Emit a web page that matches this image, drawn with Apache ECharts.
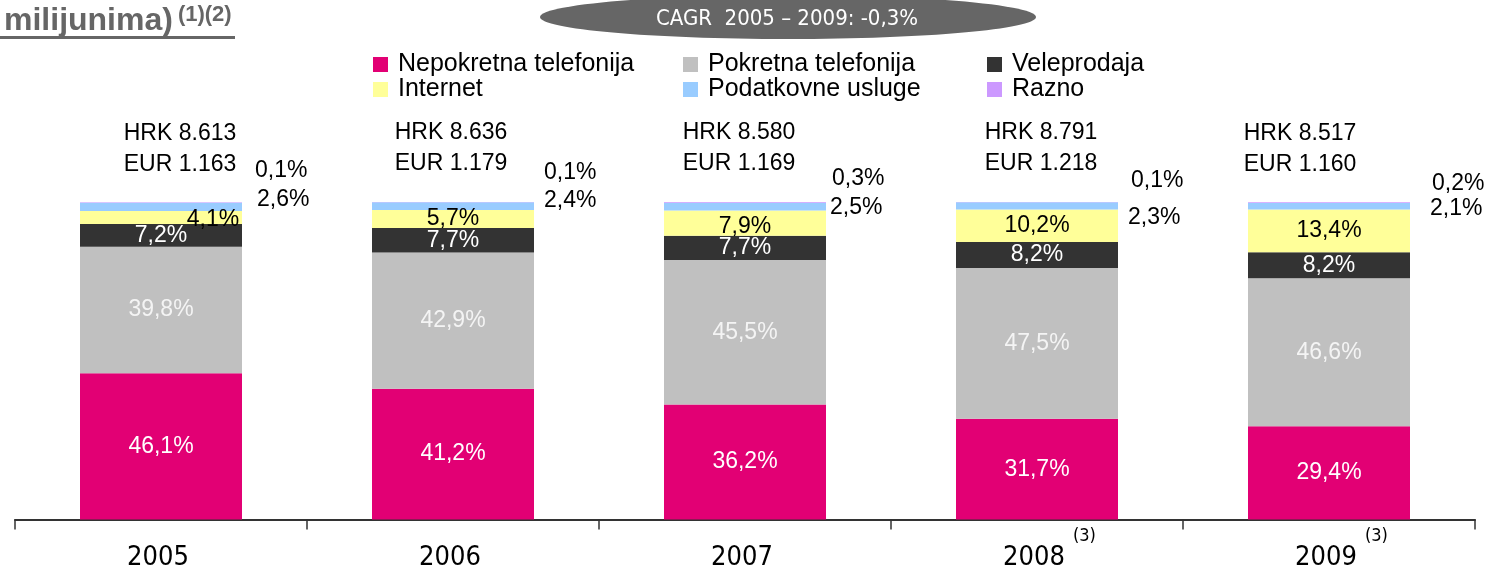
<!DOCTYPE html>
<html>
<head>
<meta charset="utf-8">
<script src="https://cdn.jsdelivr.net/npm/echarts@6/dist/echarts.min.js"></script>
<style>
html, body { margin: 0; padding: 0; background: #fff; }
#main { width: 1497px; height: 571px; }
</style>
</head>
<body>
<div id="main"></div>
<script>
// podaci (udio u prihodu, %)
var years = ['2005', '2006', '2007', '2008', '2009'];
var yearNotes = ['', '', '', '(3)', '(3)'];
var fixedLine = [46.1, 41.2, 36.2, 31.7, 29.4];
var mobile = [39.8, 42.9, 45.5, 47.5, 46.6];
var wholesale = [7.2, 7.7, 7.7, 8.2, 8.2];
var internet = [4.1, 5.7, 7.9, 10.2, 13.4];
var dataServices = [2.6, 2.4, 2.5, 2.3, 2.1];
var other = [0.1, 0.1, 0.3, 0.1, 0.2];
var totalHrk = ['8.613', '8.636', '8.580', '8.791', '8.517'];
var totalEur = ['1.163', '1.179', '1.169', '1.218', '1.160'];
var cagrText = 'CAGR  2005 – 2009: -0,3%';

// pomaci natpisa (samo izgled)
var internetShift = [[52, 2], [0, 0], [0, 4], [0, 0], [0, 0]];
var dataShift = [[10, -7], [5, -5], [-1, 1], [5, 12], [15, 2]];
var otherShift = [[8, -32], [5, -30], [1, -24], [8, -22], [17, -19]];
var totalShift = [19, -2, -6, 4, -29];

var FONT = '"Liberation Sans", Arial, sans-serif';
var NARROW = '"DejaVu Sans Condensed", "Liberation Sans", sans-serif';

function pct(v) {
    return v.toFixed(1).replace('.', ',') + '%';
}

function makeSeries(name, values, color, labelColor, shifts, outside) {
    return {
        name: name,
        type: 'bar',
        stack: 'total',
        barWidth: 162,
        itemStyle: { color: color },
        label: {
            show: true,
            position: outside ? 'right' : 'inside',
            color: labelColor,
            fontFamily: FONT,
            fontSize: 23,
            formatter: function (p) { return pct(p.value); }
        },
        data: values.map(function (v, i) {
            var item = { value: v };
            if (shifts) item.label = { offset: shifts[i] };
            return item;
        })
    };
}

var myChart = echarts.init(document.getElementById('main'));

var legendText = { color: '#000', fontFamily: FONT, fontSize: 25, lineHeight: 24, padding: [0, 0, 0, 5] };
function legendCol(left, names) {
    return {
        orient: 'vertical', left: left, top: 52, padding: 0,
        itemWidth: 15, itemHeight: 15, itemGap: 0, icon: 'rect',
        textStyle: legendText, data: names, selectedMode: false
    };
}

myChart.setOption({
    animation: false,
    backgroundColor: '#fff',
    title: {
        left: 4, top: 4, padding: 0,
        text: '{t|milijunima)} {s|(1)(2)}',
        textStyle: {
            rich: {
                t: { fontFamily: FONT, fontWeight: 'bold', fontSize: 32, color: '#666', verticalAlign: 'bottom', lineHeight: 33 },
                s: { fontFamily: FONT, fontWeight: 'bold', fontSize: 22, color: '#666', verticalAlign: 'top', lineHeight: 24 }
            }
        }
    },
    legend: [
        legendCol(373, ['Nepokretna telefonija', 'Internet']),
        legendCol(683, ['Pokretna telefonija', 'Podatkovne usluge']),
        legendCol(987, ['Veleprodaja', 'Razno'])
    ],
    graphic: [
        { type: 'rect', shape: { x: 0, y: 36, width: 235, height: 3 }, style: { fill: '#666' } },
        { type: 'ellipse', shape: { cx: 788, cy: 17, rx: 248, ry: 22 }, style: { fill: '#666' } },
        {
            type: 'text', x: 787, y: 19,
            style: { text: cagrText, fill: '#fff', font: '22px ' + NARROW, align: 'center', verticalAlign: 'middle' }
        }
    ],
    grid: { left: 15, right: 22, top: 202, bottom: 51 },
    xAxis: {
        type: 'category',
        data: years,
        axisLine: { lineStyle: { color: '#333', width: 2 } },
        axisTick: { show: true, length: 10, lineStyle: { color: '#333', width: 1.5 } },
        axisLabel: {
            margin: 8,
            formatter: function (v, i) {
                return '{p|}{y|' + v + '}{s|' + yearNotes[i] + '}';
            },
            rich: {
                p: { width: 27 },
                y: { fontFamily: NARROW, fontSize: 27, color: '#000', lineHeight: 60 },
                s: { fontFamily: NARROW, fontSize: 18, color: '#000', lineHeight: 18, verticalAlign: 'top', width: 27, padding: [0, 0, 0, 6] }
            }
        }
    },
    yAxis: { type: 'value', min: 0, max: 100, show: false },
    series: [
        makeSeries('Nepokretna telefonija', fixedLine, '#E20074', '#fff'),
        makeSeries('Pokretna telefonija', mobile, '#C0C0C0', '#f4f4f4'),
        makeSeries('Veleprodaja', wholesale, '#333333', '#fff'),
        makeSeries('Internet', internet, '#FFFF99', '#000', internetShift),
        makeSeries('Podatkovne usluge', dataServices, '#99CCFF', '#000', dataShift, true),
        makeSeries('Razno', other, '#CC99FF', '#000', otherShift, true),
        {
            name: 'Ukupno',
            type: 'scatter',
            clip: false,
            symbolSize: 1,
            itemStyle: { color: 'rgba(0,0,0,0)', opacity: 1 },
            label: {
                show: true,
                position: 'top',
                distance: 5,
                color: '#000',
                fontFamily: FONT,
                fontSize: 23,
                lineHeight: 31,
                formatter: function (p) {
                    return 'HRK ' + totalHrk[p.dataIndex] + '\nEUR ' + totalEur[p.dataIndex];
                }
            },
            data: years.map(function (y, i) {
                var sum = fixedLine[i] + mobile[i] + wholesale[i] + internet[i] + dataServices[i] + other[i];
                return { value: sum, label: { offset: [totalShift[i], -17] } };
            })
        }
    ]
});
</script>
</body>
</html>
